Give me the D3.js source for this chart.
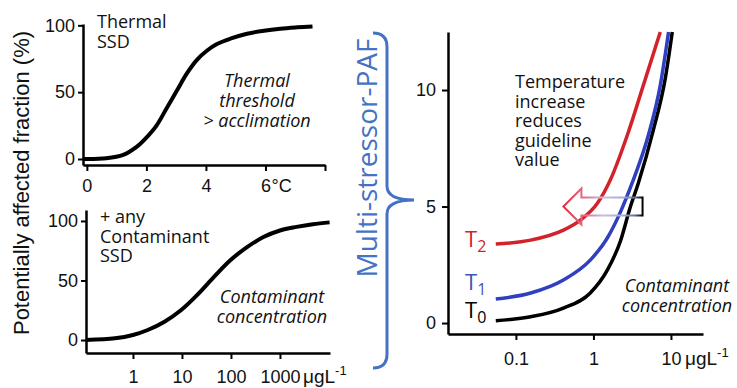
<!DOCTYPE html>
<html>
<head>
<meta charset="utf-8">
<script src="https://cdn.jsdelivr.net/npm/d3@7"></script>
<style>
  body { margin: 0; background: #fff; }
  .tick text { font-family: "Liberation Sans", Arial, sans-serif; font-size: 18px; fill: #111; }
  .axis .domain { stroke: #000; stroke-width: 2.5; }
  .axis .tick line { stroke: #000; stroke-width: 2; }
  .note { font-family: "Open Sans", sans-serif; font-size: 18px; fill: #111; }
</style>
</head>
<body>
<div id="chart"></div>
<script>
// ---- data ----
// thermal SSD: temperature rise (deg C) vs PAF (%)
var thermalT   = [-0.12, 0.65, 1.22, 1.67, 2.0, 2.34, 2.68, 3.02, 3.36, 3.69, 4.03, 4.37, 4.82, 5.38, 5.95, 6.5, 7.07, 7.58];
var thermalPAF = [0, 0.5, 3, 9, 16, 25, 38, 51, 64, 74, 81, 86, 90, 93.7, 96, 97.5, 98.5, 99.2];

// contaminant SSD: concentration (ug/L) vs PAF (%)
var contConc = [0.11, 0.43, 1, 2.0, 4.4, 9.5, 20.6, 45, 97, 213, 460, 1000, 2170, 4700, 10300];
var contPAF  = [0, 1.4, 4.2, 8.4, 15.4, 25, 38, 53, 67, 78, 86.5, 92, 95, 97.3, 98.8];

// multi-stressor PAF vs concentration for three temperatures
var t0Conc = [0.055, 0.155, 0.41, 0.91, 1.51, 2.22, 2.99, 3.79, 5.92, 8.45, 10.4];
var t0PAF  = [0.1, 0.27, 0.64, 1.29, 2.27, 3.5, 4.98, 6.0, 8.28, 10.5, 12.49];
var t1Conc = [0.055, 0.155, 0.41, 0.91, 1.51, 2.22, 3.15, 5.15, 7.28, 9.31];
var t1PAF  = [1.03, 1.29, 1.85, 2.7, 3.65, 4.75, 6.0, 8.1, 10.2, 12.49];
var t2Conc = [0.055, 0.155, 0.41, 0.68, 1.13, 1.65, 2.74, 4.4, 7.28];
var t2PAF  = [3.39, 3.56, 3.99, 4.42, 5.15, 6.14, 8.07, 10.2, 12.49];

// tick values
var tempTicks = [0, 2, 4, 6, 8];
var contTicks = [1, 10, 100, 1000];
var mixTicks  = [0.1, 1, 10];
var pafTicks  = [0, 50, 100];
var mixYTicks = [0, 5, 10];

// guideline arrow (PAF level, from / to concentration)
var arrowLevel = 5, arrowFrom = 4.3, arrowNeck = 0.70, arrowTo = 0.41;

var svgWidth = 737, svgHeight = 388;
var svg = d3.select("#chart").append("svg")
  .attr("width", svgWidth)
  .attr("height", svgHeight);

// scales
var xTemp = d3.scaleLinear().domain([-0.13, 8]).range([83, 325]);
var yTemp = d3.scaleLinear().domain([-4.5, 101]).range([165, 24]);
var xCont = d3.scaleLog().domain([0.11, 10500]).range([86, 330]);
var yCont = d3.scaleLinear().domain([-10.9, 109.2]).range([353, 210]);
var xMix  = d3.scaleLog().domain([0.0133, 25.9]).range([448, 703]);
var yMix  = d3.scaleLinear().domain([-0.47, 12.49]).range([334, 32]);

function zip(xs, ys) { return xs.map((x, i) => [x, ys[i]]); }

// ---- top-left: thermal SSD ----
svg.append("g").attr("class", "axis")
  .attr("transform", "translate(0,165)")
  .call(d3.axisBottom(xTemp).tickValues(tempTicks)
    .tickFormat(d => d === 8 ? "" : d)
    .tickSize(6).tickPadding(8).tickSizeOuter(0));
svg.append("g").attr("class", "axis")
  .attr("transform", "translate(83,0)")
  .call(d3.axisLeft(yTemp).tickValues(pafTicks)
    .tickSize(5).tickPadding(3).tickSizeOuter(0));
svg.append("text")
  .attr("x", xTemp(6) + 6).attr("y", 192)
  .attr("font-family", "Liberation Sans, Arial, sans-serif")
  .attr("font-size", 18).attr("fill", "#111")
  .text("°C");

var lineTemp = d3.line().x(d => xTemp(d[0])).y(d => yTemp(d[1])).curve(d3.curveCatmullRom);
svg.append("path")
  .datum(zip(thermalT, thermalPAF))
  .attr("d", lineTemp)
  .attr("fill", "none").attr("stroke", "#000").attr("stroke-width", 4);

svg.append("text").attr("class", "note").attr("x", 97).attr("y", 28).text("Thermal");
svg.append("text").attr("class", "note").attr("x", 97).attr("y", 48).text("SSD");
["Thermal", "threshold", "> acclimation"].forEach(function(t, i) {
  svg.append("text").attr("class", "note")
    .attr("x", 257).attr("y", 87 + i * 20)
    .attr("text-anchor", "middle").attr("font-style", "italic")
    .text(t);
});

// ---- bottom-left: contaminant SSD ----
svg.append("g").attr("class", "axis")
  .attr("transform", "translate(0,353)")
  .call(d3.axisBottom(xCont).tickValues(contTicks)
    .tickFormat(d3.format("d"))
    .tickSize(6).tickPadding(11).tickSizeOuter(0));
svg.append("g").attr("class", "axis")
  .attr("transform", "translate(86,0)")
  .call(d3.axisLeft(yCont).tickValues(pafTicks)
    .tickSize(5).tickPadding(3).tickSizeOuter(0));

var lineCont = d3.line().x(d => xCont(d[0])).y(d => yCont(d[1])).curve(d3.curveCatmullRom);
svg.append("path")
  .datum(zip(contConc, contPAF))
  .attr("d", lineCont)
  .attr("fill", "none").attr("stroke", "#000").attr("stroke-width", 4);

svg.append("text").attr("class", "note").attr("x", 100).attr("y", 223).text("+ any");
svg.append("text").attr("class", "note").attr("x", 100).attr("y", 243).text("Contaminant");
svg.append("text").attr("class", "note").attr("x", 100).attr("y", 262).text("SSD");
["Contaminant", "concentration"].forEach(function(t, i) {
  svg.append("text").attr("class", "note")
    .attr("x", 272).attr("y", 303 + i * 20)
    .attr("text-anchor", "middle").attr("font-style", "italic")
    .text(t);
});

function unitLabel(x, y) {
  var t = svg.append("text").attr("x", x).attr("y", y)
    .attr("font-family", "Liberation Sans, Arial, sans-serif")
    .attr("font-size", 19).attr("fill", "#111");
  t.append("tspan").text("μgL");
  t.append("tspan").attr("dy", -8).attr("font-size", 13).text("-1");
}
unitLabel(xCont(1000) + 23, 383);

// shared y label
svg.append("text")
  .attr("transform", "translate(29,183) rotate(-90)")
  .attr("text-anchor", "middle")
  .attr("font-family", "Liberation Sans, Arial, sans-serif")
  .attr("font-size", 22).attr("fill", "#111")
  .text("Potentially affected fraction (%)");

// ---- brace + multi-stressor label ----
svg.append("path")
  .attr("d", "M373,33 Q387,33 387,47 L387,186 Q387,200 414,200 Q387,200 387,214 L387,354 Q387,368 373,368")
  .attr("fill", "none").attr("stroke", "#4472c4").attr("stroke-width", 3);
svg.append("text")
  .attr("transform", "translate(377,158) rotate(-90)")
  .attr("text-anchor", "middle")
  .attr("font-family", "Open Sans, sans-serif")
  .attr("font-size", 28).attr("fill", "#4472c4")
  .text("Multi-stressor-PAF");

// ---- right: multi-stressor PAF ----
svg.append("g").attr("class", "axis")
  .attr("transform", "translate(0,334)")
  .call(d3.axisBottom(xMix).tickValues(mixTicks)
    .tickFormat(d => d)
    .tickSize(6).tickPadding(12).tickSizeOuter(0));
svg.append("g").attr("class", "axis")
  .attr("transform", "translate(448,0)")
  .call(d3.axisLeft(yMix).tickValues(mixYTicks)
    .tickSize(6).tickPadding(6).tickSizeOuter(0));
unitLabel(xMix(10) + 14, 365);

var lineMix = d3.line().x(d => xMix(d[0])).y(d => yMix(d[1])).curve(d3.curveMonotoneX);
var series = [
  { conc: t0Conc, paf: t0PAF, color: "#000000" },
  { conc: t1Conc, paf: t1PAF, color: "#2f3fbf" },
  { conc: t2Conc, paf: t2PAF, color: "#d2232a" }
];

// arrow gradient
var defs = svg.append("defs");
var grad = defs.append("linearGradient")
  .attr("id", "arrowGrad")
  .attr("gradientUnits", "userSpaceOnUse")
  .attr("x1", xMix(arrowTo)).attr("x2", xMix(arrowFrom))
  .attr("y1", 0).attr("y2", 0);
[[0, "#e0303f"], [0.3, "#e07890"], [0.5, "#c6bede"], [0.75, "#9eb0da"], [0.9, "#6a7090"], [1, "#000"]]
  .forEach(s => grad.append("stop").attr("offset", s[0]).attr("stop-color", s[1]));

series.forEach(function(s) {
  svg.append("path")
    .datum(zip(s.conc, s.paf))
    .attr("d", lineMix)
    .attr("fill", "none").attr("stroke", s.color).attr("stroke-width", 3.5);
});

var yc = yMix(arrowLevel), xt = xMix(arrowTo), xn = xMix(arrowNeck), xr = xMix(arrowFrom);
svg.append("path")
  .attr("d", `M${xt},${yc} L${xn},${yc - 18} L${xn},${yc - 9} L${xr},${yc - 9} L${xr},${yc + 9} L${xn},${yc + 9} L${xn},${yc + 18} Z`)
  .attr("fill", "none").attr("stroke", "url(#arrowGrad)").attr("stroke-width", 2);

// T labels
var tLabels = [
  { sub: "2", y: 247, color: "#d2232a" },
  { sub: "1", y: 290, color: "#3b55b8" },
  { sub: "0", y: 318, color: "#000" }
];
tLabels.forEach(function(l) {
  var t = svg.append("text").attr("x", 465).attr("y", l.y)
    .attr("font-family", "Open Sans, sans-serif")
    .attr("font-size", 22).attr("fill", l.color);
  t.append("tspan").text("T");
  t.append("tspan").attr("dy", 5).attr("font-size", 16).text(l.sub);
});

["Temperature", "increase", "reduces", "guideline", "value"].forEach(function(t, i) {
  svg.append("text").attr("class", "note")
    .attr("x", 515).attr("y", 88 + i * 19.5)
    .text(t);
});
["Contaminant", "concentration"].forEach(function(t, i) {
  svg.append("text").attr("class", "note")
    .attr("x", 677).attr("y", 292 + i * 19.5)
    .attr("text-anchor", "middle").attr("font-style", "italic")
    .text(t);
});
</script>
</body>
</html>
